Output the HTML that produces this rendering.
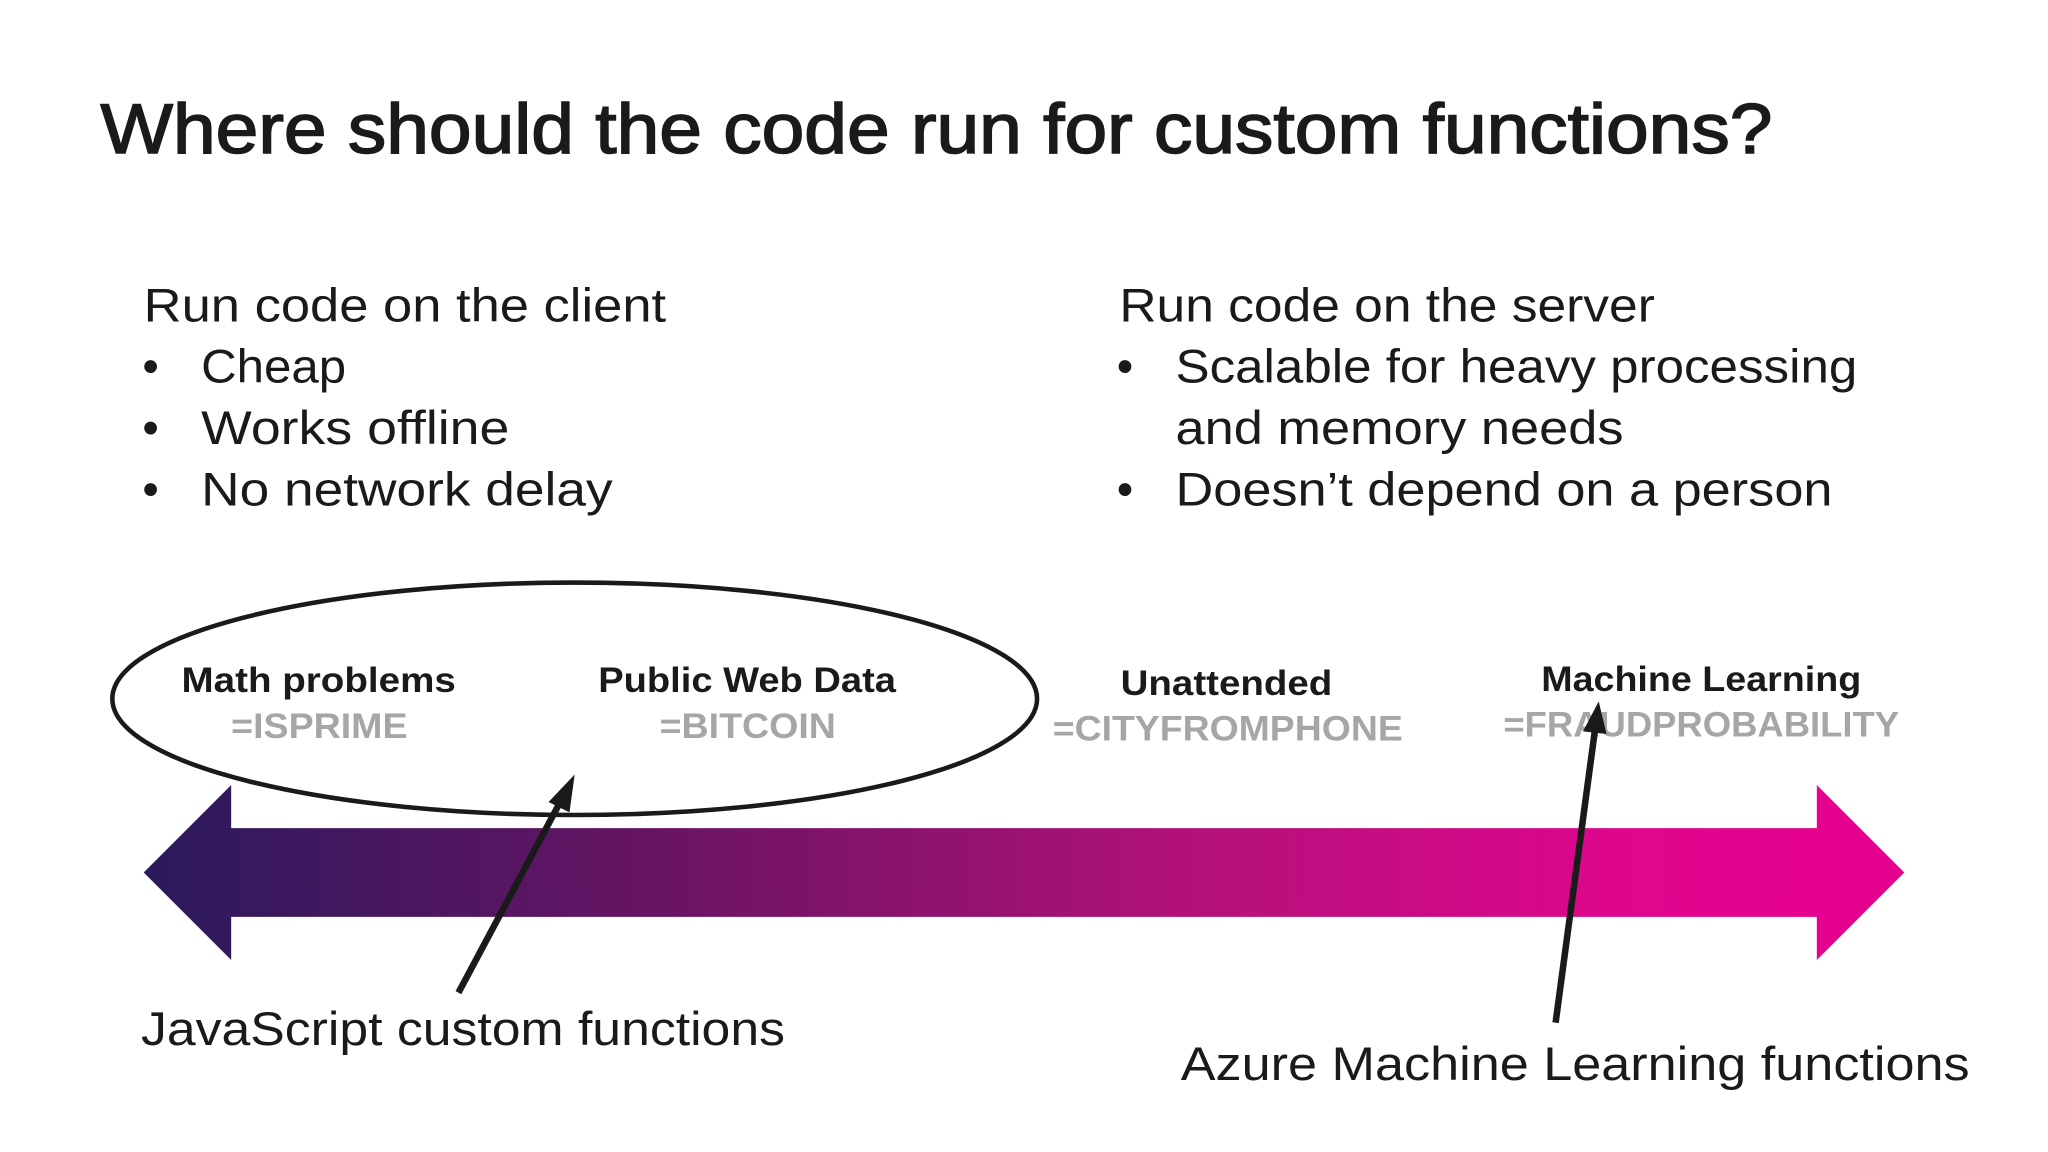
<!DOCTYPE html>
<html><head><meta charset="utf-8"><style>
html,body{margin:0;padding:0;background:#fff;}
svg{display:block;}
text{font-family:"Liberation Sans",sans-serif;}
</style></head><body>
<svg width="2048" height="1152" viewBox="0 0 1568 882" xmlns="http://www.w3.org/2000/svg">
<defs>
<linearGradient id="g" x1="110" y1="0" x2="1458" y2="0" gradientUnits="userSpaceOnUse">
<stop offset="0" stop-color="#2a1a5c"/>
<stop offset="0.3" stop-color="#6a1464"/>
<stop offset="0.6" stop-color="#b4117a"/>
<stop offset="0.85" stop-color="#e0068e"/>
<stop offset="1" stop-color="#e6008f"/>
</linearGradient>
</defs>
<rect width="1568" height="882" fill="#fff"/>
<text x="77" y="117" font-size="54" fill="#1a1a1a" stroke="#1a1a1a" stroke-width="1.2" textLength="1280" lengthAdjust="spacingAndGlyphs">Where should the code run for custom functions?</text>

<g font-size="36" fill="#1a1a1a">
<text x="110" y="246" textLength="400" lengthAdjust="spacingAndGlyphs">Run code on the client</text>
<text x="109" y="293">•</text><text x="154" y="293" textLength="111" lengthAdjust="spacingAndGlyphs">Cheap</text>
<text x="109" y="340">•</text><text x="154" y="340" textLength="236" lengthAdjust="spacingAndGlyphs">Works offline</text>
<text x="109" y="387">•</text><text x="154" y="387" textLength="315" lengthAdjust="spacingAndGlyphs">No network delay</text>

<text x="857" y="246" textLength="410" lengthAdjust="spacingAndGlyphs">Run code on the server</text>
<text x="855" y="293">•</text><text x="900" y="293" textLength="522" lengthAdjust="spacingAndGlyphs">Scalable for heavy processing</text>
<text x="900" y="340" textLength="343" lengthAdjust="spacingAndGlyphs">and memory needs</text>
<text x="855" y="387">•</text><text x="900" y="387" textLength="503" lengthAdjust="spacingAndGlyphs">Doesn’t depend on a person</text>

<text x="108" y="800" textLength="493" lengthAdjust="spacingAndGlyphs">JavaScript custom functions</text>
<text x="904" y="827" textLength="604" lengthAdjust="spacingAndGlyphs">Azure Machine Learning functions</text>
</g>

<polygon points="110,668 177,601 177,634 1391,634 1391,601 1458,668 1391,735 1391,702 177,702 177,735" fill="url(#g)"/>

<ellipse cx="440" cy="535" rx="354" ry="89" fill="none" stroke="#1a1a1a" stroke-width="3.5"/>

<g font-size="27" font-weight="bold">
<text x="139" y="530" fill="#1a1a1a" textLength="210" lengthAdjust="spacingAndGlyphs">Math problems</text>
<text x="177" y="565" fill="#a6a6a6" textLength="135" lengthAdjust="spacingAndGlyphs">=ISPRIME</text>
<text x="458" y="530" fill="#1a1a1a" textLength="228" lengthAdjust="spacingAndGlyphs">Public Web Data</text>
<text x="505" y="565" fill="#a6a6a6" textLength="135" lengthAdjust="spacingAndGlyphs">=BITCOIN</text>
<text x="858" y="532" fill="#1a1a1a" textLength="162" lengthAdjust="spacingAndGlyphs">Unattended</text>
<text x="806" y="567" fill="#a6a6a6" textLength="268" lengthAdjust="spacingAndGlyphs">=CITYFROMPHONE</text>
<text x="1151" y="564" fill="#a6a6a6" textLength="303" lengthAdjust="spacingAndGlyphs">=FRAUDPROBABILITY</text>
<text x="1180" y="529" fill="#1a1a1a" textLength="245" lengthAdjust="spacingAndGlyphs">Machine Learning</text>
</g>

<g stroke="#1a1a1a" stroke-width="5" fill="#1a1a1a">
<line x1="351" y1="760" x2="430" y2="612"/>
<polygon points="440,593 420,614 436,622" stroke="none"/>
<line x1="1191" y1="783" x2="1221" y2="560"/>
<polygon points="1224,537 1212,560 1230,562" stroke="none"/>
</g>
</svg>
</body></html>
